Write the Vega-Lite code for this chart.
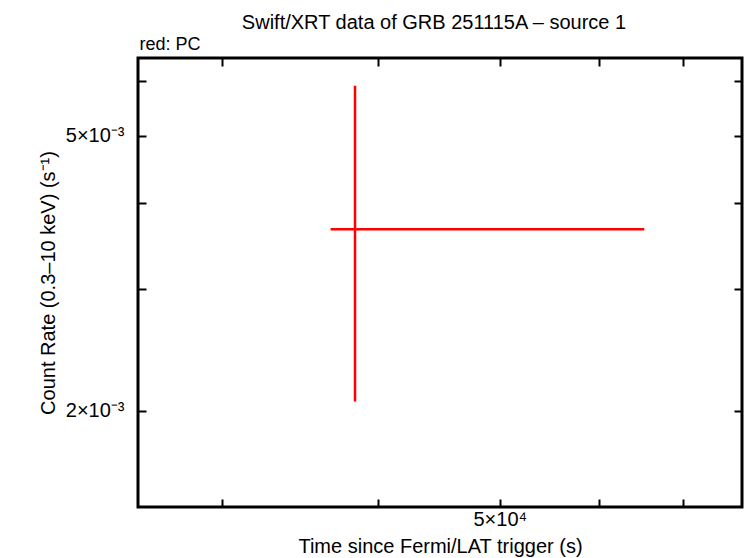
{
  "$schema": "https://vega.github.io/schema/vega-lite/v6.json",
  "autosize": {"type": "none"},
  "width": 604,
  "height": 449,
  "padding": {"left": 138, "top": 58, "right": 4, "bottom": 51},
  "background": "white",
  "config": {
    "view": {"stroke": "black", "strokeWidth": 3},
    "font": "Liberation Sans",
    "axis": {
      "domain": false,
      "grid": false,
      "tickColor": "black",
      "tickWidth": 2,
      "tickSize": -8,
      "labelColor": "black",
      "titleColor": "black",
      "labelFont": "Liberation Sans",
      "titleFont": "Liberation Sans",
      "labelFontSize": 20,
      "titleFontSize": 20,
      "titleFontWeight": "normal",
      "labelOverlap": false,
      "labelFlush": false
    }
  },
  "title": {
    "text": "Swift/XRT data of GRB 251115A – source 1",
    "font": "Liberation Sans",
    "fontSize": 20,
    "fontWeight": "normal",
    "color": "black",
    "anchor": "middle",
    "dx": -6,
    "baseline": "alphabetic",
    "offset": -14
  },
  "data": {"values": [
    {"t": 38320, "tmin": 36640, "tmax": 65200, "rate": 0.003664, "rlo": 0.002063, "rhi": 0.005911}
  ]},
  "resolve": {"axis": {"x": "independent", "y": "independent"}},
  "layer": [
    {
      "mark": {"type": "rule", "color": "#ff0000", "strokeWidth": 2.5},
      "encoding": {
        "x": {"field": "t", "type": "quantitative",
          "scale": {"type": "log", "domain": [25720, 78020], "nice": false},
          "axis": {"orient": "bottom", "values": [30000, 40000, 50000, 60000, 70000],
            "labelExpr": "datum.value == 50000 ? '5×10⁴' : ''",
            "labelPadding": 26, "labelBaseline": "alphabetic",
            "title": "Time since Fermi/LAT trigger (s)", "titleBaseline": "alphabetic", "titleY": 45}},
        "y": {"field": "rlo", "type": "quantitative",
          "scale": {"type": "log", "domain": [0.001452, 0.006483], "nice": false},
          "axis": {"orient": "left", "values": [0.002, 0.003, 0.004, 0.005, 0.006],
            "labelExpr": "abs(datum.value - 0.005) < 1e-9 ? '5×10⁻³' : abs(datum.value - 0.002) < 1e-9 ? '2×10⁻³' : ''",
            "labelPadding": 22,
            "title": "Count Rate (0.3–10 keV) (s⁻¹)", "titleBaseline": "alphabetic", "titleX": -84, "titleAngle": -90}},
        "y2": {"field": "rhi"}
      }
    },
    {
      "mark": {"type": "rule", "color": "#ff0000", "strokeWidth": 2.5},
      "encoding": {
        "x": {"field": "tmin", "type": "quantitative",
          "axis": {"orient": "top", "values": [30000, 40000, 50000, 60000, 70000],
            "labels": false,
            "title": "red: PC", "titleFontSize": 18, "titleAnchor": "start", "titleAlign": "left",
            "titleBaseline": "alphabetic", "titleX": 1, "titleY": -9}},
        "x2": {"field": "tmax"},
        "y": {"field": "rate", "type": "quantitative",
          "axis": {"orient": "right", "values": [0.002, 0.003, 0.004, 0.005, 0.006],
            "labels": false, "title": null}}
      }
    }
  ]
}
